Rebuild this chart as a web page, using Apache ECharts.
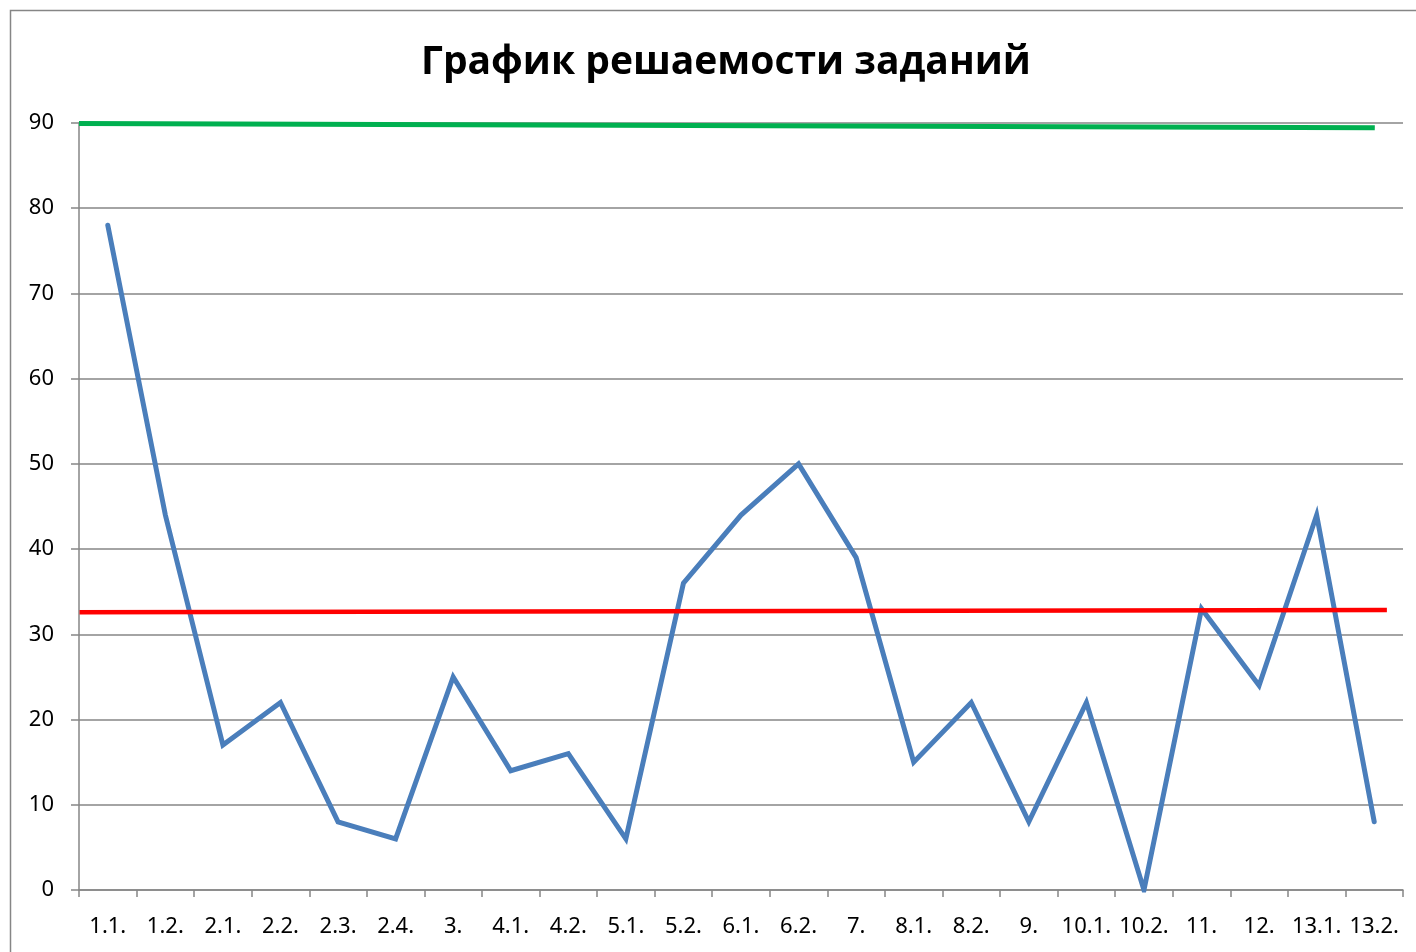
<!DOCTYPE html>
<html><head><meta charset="utf-8">
<script src="https://cdn.jsdelivr.net/npm/echarts@6/dist/echarts.min.js"></script>
<style>html,body{margin:0;padding:0;background:#fff}#c{width:1416px;height:952px}</style>
</head><body><div id="c"></div>
<script>
const titleText = 'График решаемости заданий';
const categories = ['1.1.','1.2.','2.1.','2.2.','2.3.','2.4.','3.','4.1.','4.2.','5.1.','5.2.','6.1.','6.2.','7.','8.1.','8.2.','9.','10.1.','10.2.','11.','12.','13.1.','13.2.'];
const solvedValues = [78,44,17,22,8,6,25,14,16,6,36,44,50,39,15,22,8,22,0,33,24,44,8];
// reference lines drawn across the plot (x in category-width units from the left axis)
const greenLine = [[0,89.95],[22.51,89.45]];
const redLine = [[0.01,32.6],[22.72,32.85]];
const yTicks = [0,10,20,30,40,50,60,70,80,90];

const chart = echarts.init(document.getElementById('c'), null, {renderer:'canvas'});
const font = '"Noto Sans", "Open Sans", sans-serif';
chart.setOption({
  animation:false,
  backgroundColor:'#fff',
  graphic:[{type:'rect',shape:{x:10.5,y:10.5,width:1500,height:1000},style:{fill:'none',stroke:'#868686',lineWidth:1.5},z:-10}],
  title:{text:titleText,left:416,top:38,itemGap:0,textStyle:{fontFamily:'"Open Sans", "Noto Sans", sans-serif',fontWeight:'bold',fontSize:39,color:'#000'}},
  grid:{left:79,right:13,top:123,bottom:62,containLabel:false},
  xAxis:[{type:'category',data:categories,boundaryGap:true,
    axisLine:{lineStyle:{color:'#868686',width:1.5}},
    axisTick:{show:true,length:7,interval:0,lineStyle:{color:'#868686',width:1.5}},
    axisLabel:{interval:0,margin:26,color:'#000',fontSize:22,fontFamily:font},
    splitLine:{show:false}},
   {type:'value',min:0,max:23,show:false}],
  yAxis:{type:'value',min:0,max:90,interval:10,
    axisLine:{show:true,lineStyle:{color:'#868686',width:1.5}},
    axisTick:{show:true,length:8,lineStyle:{color:'#868686',width:1.5}},
    axisLabel:{margin:25,color:'#000',fontSize:22,fontFamily:font},
    splitLine:{show:true,lineStyle:{color:'#868686',width:1.5}}},
  series:[
    {type:'line',data:solvedValues,xAxisIndex:0,symbol:'none',lineStyle:{color:'#4a7ebb',width:5,cap:'round',join:'miter'},z:3},
    {type:'line',data:greenLine,xAxisIndex:1,symbol:'none',lineStyle:{color:'#00b050',width:5},z:4},
    {type:'line',data:redLine,xAxisIndex:1,symbol:'none',lineStyle:{color:'#ff0000',width:4.5},z:4}
  ]
});
</script></body></html>
